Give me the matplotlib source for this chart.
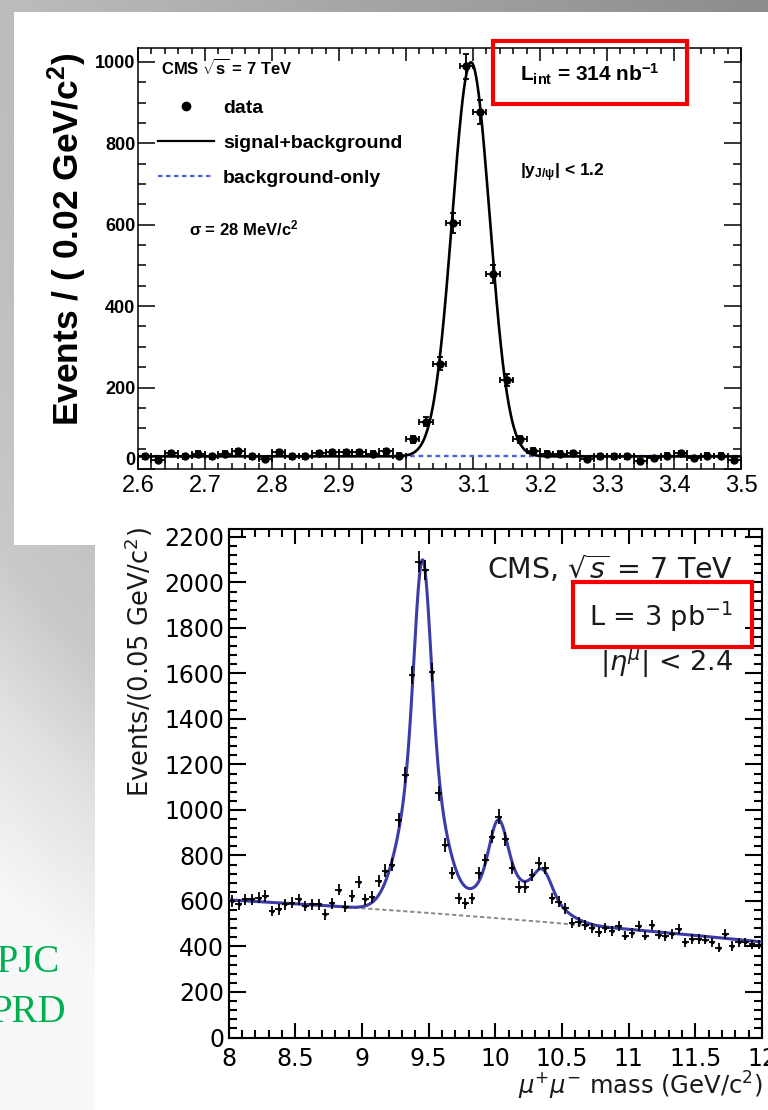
import numpy as np
import matplotlib
matplotlib.use("Agg")
import matplotlib.pyplot as plt
from matplotlib.lines import Line2D
from matplotlib.patches import Rectangle
from matplotlib.ticker import MultipleLocator, FuncFormatter
from matplotlib.transforms import blended_transform_factory

plt.rcParams['mathtext.fontset'] = 'custom'
plt.rcParams['mathtext.rm'] = 'Liberation Sans:bold'
plt.rcParams['mathtext.it'] = 'Liberation Sans:bold'
plt.rcParams['mathtext.bf'] = 'Liberation Sans:bold'

# J/psi -> mu mu, 0.02 GeV bins from 2.6 to 3.5
jpsi_lo, jpsi_hi, jpsi_bw = 2.6, 3.5, 0.02
jpsi_counts = [31, 23, 39, 31, 37, 31, 37, 43, 31, 25,
               41, 31, 31, 39, 41, 41, 41, 37, 43, 33,
               73, 116, 259, 603, 989, 877, 478, 218, 73, 45,
               37, 37, 39, 25, 31, 31, 31, 19, 27, 33,
               39, 27, 33, 33, 23]
# fit: gaussian on a flat background
jpsi_mean, jpsi_sigma = 3.097, 0.028
jpsi_peak, jpsi_bkg = 968, 31

# Upsilon(1S,2S,3S) -> mu mu, 0.05 GeV bins from 8 to 12
ups_lo, ups_hi, ups_bw = 8.0, 12.0, 0.05
ups_counts = [600, 585, 607, 607, 615, 622, 556, 563, 585, 593,
              607, 578, 585, 585, 541, 590, 650, 575, 622, 683,
              608, 617, 686, 734, 760, 956, 1154, 1593, 2091, 2055,
              1608, 1073, 846, 722, 612, 590, 612, 722, 780, 883,
              971, 873, 744, 663, 663, 714, 765, 744, 612, 597,
              568, 502, 509, 495, 480, 462, 480, 468, 488, 448,
              460, 488, 448, 495, 452, 445, 455, 475, 418, 432,
              432, 430, 418, 395, 455, 402, 418, 418, 410, 408]
# fit: three double gaussians on a 2nd order polynomial (expanded around 10 GeV)
ups_mass = [9.455, 10.023, 10.355]
ups_amp = [1550, 420, 210]
ups_sig_core = [0.060, 0.064, 0.066]
ups_sig_tail = [0.150, 0.159, 0.164]
ups_core_frac = 0.55
ups_bkg_coef = [525.0, -46.25, -3.125]

W, H = 768, 1110


def fx(x):
    return x / W


def fy(y):
    return 1 - y / H


def panel(x0, y0, x1, y1, z):
    fig.add_artist(Rectangle((fx(x0), fy(y1)), fx(x1) - fx(x0), fy(y0) - fy(y1),
                             transform=fig.transFigure, facecolor='white',
                             edgecolor='none', zorder=z))


def red_box(x0, y0, x1, y1, z):
    fig.add_artist(Rectangle((fx(x0), fy(y1)), fx(x1) - fx(x0), fy(y0) - fy(y1),
                             transform=fig.transFigure, facecolor='none',
                             edgecolor='#f40000', linewidth=3.0, zorder=z))


def root_ticks(ax, xmaj, xmin, ymaj, ymin, xlen, ylen, lw, xpad, ypad):
    ax.xaxis.set_major_locator(MultipleLocator(xmaj))
    ax.xaxis.set_minor_locator(MultipleLocator(xmin))
    ax.yaxis.set_major_locator(MultipleLocator(ymaj))
    ax.yaxis.set_minor_locator(MultipleLocator(ymin))
    fmt = FuncFormatter(lambda v, p: f"{v:g}")
    ax.xaxis.set_major_formatter(fmt)
    ax.yaxis.set_major_formatter(fmt)
    ax.tick_params(which='both', direction='in', top=True, right=True, width=lw)
    ax.tick_params(axis='x', which='major', length=xlen, pad=xpad)
    ax.tick_params(axis='x', which='minor', length=xlen / 2)
    ax.tick_params(axis='y', which='major', length=ylen, pad=ypad)
    ax.tick_params(axis='y', which='minor', length=ylen / 2)
    for s in ax.spines.values():
        s.set_linewidth(lw)


fig = plt.figure(figsize=(W / 100, H / 100), dpi=100)

# slide background
bg = fig.add_axes([0, 0, 1, 1], zorder=-10)
yy, xx = np.mgrid[0:H:2, 0:W:2]
dist = np.hypot(W - xx, yy)
shade = np.interp(dist, [0, 768, 943, 1040, 1185], [0.55, 0.74, 0.79, 0.88, 0.975])
bg.imshow(np.dstack([shade] * 3), extent=(0, W, H, 0), aspect='auto', interpolation='bilinear')
bg.set_xlim(0, W)
bg.set_ylim(H, 0)
bg.axis('off')

fig.text(fx(60), fy(972), "EPJC", ha='right', va='baseline', color='#00b050',
         fontsize=28, family='Liberation Serif', zorder=-1)
fig.text(fx(66), fy(1022), "PRD", ha='right', va='baseline', color='#00b050',
         fontsize=28, family='Liberation Serif', zorder=-1)

# ---------------- J/psi panel ----------------
panel(14, 12, W, 545, -5)
ax1 = fig.add_axes([fx(138), fy(469), fx(741) - fx(138), fy(48) - fy(469)], zorder=1)
jx = jpsi_lo + jpsi_bw * (np.arange(len(jpsi_counts)) + 0.5)
jn = np.array(jpsi_counts, dtype=float)
mgrid = np.linspace(jpsi_lo, jpsi_hi, 900)
jbkg = np.full_like(mgrid, jpsi_bkg)
jtot = jbkg + jpsi_peak * np.exp(-0.5 * ((mgrid - jpsi_mean) / jpsi_sigma) ** 2)
ax1.plot(mgrid, jbkg, color='#4f63d6', lw=1.7, ls=(0, (2, 1.6)), zorder=2)
ax1.plot(mgrid, jtot, color='black', lw=1.9, zorder=3)
ax1.errorbar(jx, jn, xerr=jpsi_bw / 2, yerr=np.sqrt(jn), fmt='o', ms=5, color='black',
             elinewidth=1.3, capsize=2, capthick=1.3, zorder=4)
ax1.set_xlim(jpsi_lo, jpsi_hi)
ax1.set_ylim(0, 1034)
root_ticks(ax1, 0.1, 0.02, 200, 50, 9, 12, 1.1, 4, 2)
# ROOT lifts the zero label above the x axis
ax1.yaxis.set_major_formatter(FuncFormatter(lambda v, p: "" if abs(v) < 1e-9 else f"{v:g}"))
ax1.text(-3 / 603, 0, "0", transform=blended_transform_factory(ax1.transAxes, ax1.transData),
         ha='right', va='bottom', fontsize=13, family='Liberation Sans', fontweight='bold')
for t in ax1.get_xticklabels():
    t.set_fontsize(17)
    t.set_family('Liberation Sans')
for t in ax1.get_yticklabels():
    t.set_fontsize(13)
    t.set_family('Liberation Sans')
    t.set_fontweight('bold')

top_kw = dict(family='Liberation Sans', fontweight='bold', math_fontfamily='custom', zorder=2)
fig.text(fx(67), fy(239), "Events / ( 0.02 GeV/c$^{2}$)", rotation=90, ha='center',
         va='center', fontsize=25.5, **top_kw)
fig.text(fx(161), fy(68), r"CMS $\sqrt{s}$ = 7 TeV", ha='left', va='center', fontsize=12, **top_kw)
fig.text(fx(189), fy(228), r"$\sigma$ = 28 MeV/c$^{2}$", ha='left', va='center', fontsize=12, **top_kw)
fig.text(fx(520), fy(74), r"L$_{int}$ = 314 nb$^{-1}$", ha='left', va='center', fontsize=15, **top_kw)
fig.text(fx(520), fy(173), r"|y$_{J/\psi}$| < 1.2", ha='left', va='center', fontsize=12.5, **top_kw)
red_box(493, 41, 687, 104, 2)

handles = [Line2D([], [], marker='o', ls='none', color='black', ms=6),
           Line2D([], [], color='black', lw=1.6),
           Line2D([], [], color='#4f63d6', lw=1.6, ls=(0, (2, 1.6)))]
ax1.legend(handles, ["data", "signal+background", "background-only"], loc='upper left',
           bbox_to_anchor=(fx(158), fy(99)), bbox_transform=fig.transFigure,
           frameon=False, borderpad=0, borderaxespad=0, handlelength=2.9,
           handletextpad=0.45, labelspacing=0.9,
           prop=dict(family='Liberation Sans', weight='bold', size=14))

# ---------------- Upsilon panel ----------------
panel(95, 515, W, H, 3)
ax2 = fig.add_axes([fx(228.5), fy(1037.5), fx(762) - fx(228.5), fy(529) - fy(1037.5)], zorder=4)
ux = ups_lo + ups_bw * (np.arange(len(ups_counts)) + 0.5)
un = np.array(ups_counts, dtype=float)
ugrid = np.linspace(ups_lo, ups_hi, 1200)
d10 = ugrid - 10.0
ubkg = ups_bkg_coef[0] + ups_bkg_coef[1] * d10 + ups_bkg_coef[2] * d10 ** 2
utot = ubkg.copy()
for m0, a, s1, s2 in zip(ups_mass, ups_amp, ups_sig_core, ups_sig_tail):
    utot += a * (ups_core_frac * np.exp(-0.5 * ((ugrid - m0) / s1) ** 2)
                 + (1 - ups_core_frac) * np.exp(-0.5 * ((ugrid - m0) / s2) ** 2))
ax2.plot(ugrid, ubkg, color='#8a8a8a', lw=1.4, ls=(0, (2.2, 1.4)), zorder=2)
ax2.plot(ugrid, utot, color='#3c3ca8', lw=2.2, zorder=3)
ax2.errorbar(ux, un, xerr=ups_bw / 2, yerr=np.sqrt(un), fmt='s', ms=2, color='black',
             elinewidth=1.3, capsize=0, zorder=4)
ax2.set_xlim(ups_lo, ups_hi)
ax2.set_ylim(0, 2235)
root_ticks(ax2, 0.5, 0.1, 200, 40, 11, 12, 1.5, 7, 3)
for t in ax2.get_xticklabels() + ax2.get_yticklabels():
    t.set_fontsize(17)
    t.set_family('DejaVu Sans')

bot_kw = dict(family='DejaVu Sans', math_fontfamily='dejavusans', zorder=5, color='#1a1a1a')
fig.text(fx(139), fy(662), "Events/(0.05 GeV/c$^{2}$)", rotation=90, ha='center',
         va='center', fontsize=18.5, **bot_kw)
fig.text(fx(763), fy(1086), r"$\mu^{+}\mu^{-}$ mass (GeV/c$^{2}$)", ha='right',
         va='center', fontsize=17.5, **bot_kw)
fig.text(fx(733), fy(569), r"CMS, $\sqrt{s}$ = 7 TeV", ha='right', va='center', fontsize=20.5, **bot_kw)
fig.text(fx(733), fy(617), r"L = 3 pb$^{-1}$", ha='right', va='center', fontsize=19.5, **bot_kw)
fig.text(fx(733), fy(663), r"$|\eta^{\mu}|$ < 2.4", ha='right', va='center', fontsize=19.5, **bot_kw)
red_box(573, 582, 752, 647, 6)

fig.savefig("out.png", dpi=100)
